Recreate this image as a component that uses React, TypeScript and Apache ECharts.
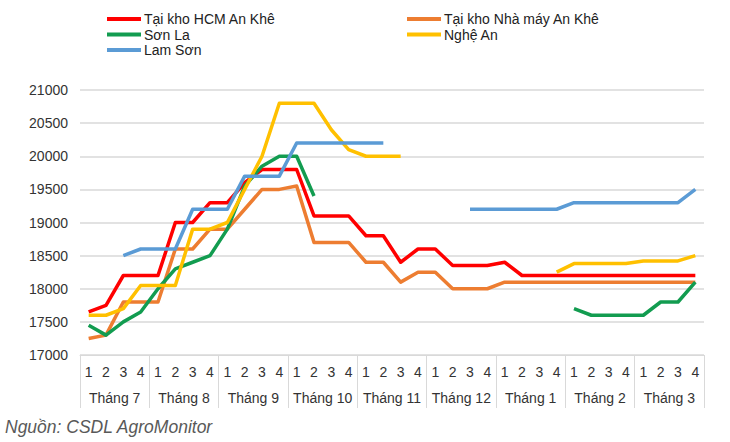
import * as echarts from 'echarts';
import React, { useEffect, useRef } from 'react';

const weeks = ['1', '2', '3', '4'];
const months = [
  'Tháng 7',
  'Tháng 8',
  'Tháng 9',
  'Tháng 10',
  'Tháng 11',
  'Tháng 12',
  'Tháng 1',
  'Tháng 2',
  'Tháng 3',
];
const weekCategories = months.flatMap((m) => weeks.map((w) => `${m}-${w}`));

const hcmAnKhe = [
  17650, 17750, 18200, 18200, 18200, 19000, 19000, 19300, 19300, 19600, 19800, 19800,
  19800, 19100, 19100, 19100, 18800, 18800, 18400, 18600, 18600, 18350, 18350, 18350,
  18400, 18200, 18200, 18200, 18200, 18200, 18200, 18200, 18200, 18200, 18200, 18200,
];
const nhaMayAnKhe = [
  17250, 17300, 17800, 17800, 17800, 18600, 18600, 18900, 18900, 19200, 19500, 19500,
  19550, 18700, 18700, 18700, 18400, 18400, 18100, 18250, 18250, 18000, 18000, 18000,
  18100, 18100, 18100, 18100, 18100, 18100, 18100, 18100, 18100, 18100, 18100, 18100,
];
const sonLa = [
  17450, 17300, 17500, 17650, 18000, 18300, 18400, 18500, 18900, 19550, 19850, 20000,
  20000, 19400, null, null, null, null, null, null, null, null, null, null,
  null, null, null, null, 17700, 17600, 17600, 17600, 17600, 17800, 17800, 18100,
];
const ngheAn = [
  17600, 17600, 17700, 18050, 18050, 18050, 18900, 18900, 19000, 19500, 20000, 20800,
  20800, 20800, 20400, 20100, 20000, 20000, 20000, null, null, null, null, null,
  null, null, null, 18250, 18380, 18380, 18380, 18380, 18420, 18420, 18420, 18500,
];
const lamSon = [
  null, null, 18500, 18600, 18600, 18600, 19200, 19200, 19200, 19700, 19700, 19700,
  20200, 20200, 20200, 20200, 20200, 20200, null, null, null, null, 19200, 19200,
  19200, 19200, 19200, 19200, 19300, 19300, 19300, 19300, 19300, 19300, 19300, 19500,
];

const seriesDefs = [
  { name: 'Tại kho HCM An Khê', data: hcmAnKhe, color: '#ff0000' },
  { name: 'Tại kho Nhà máy An Khê', data: nhaMayAnKhe, color: '#ed7d31' },
  { name: 'Sơn La', data: sonLa, color: '#129c50' },
  { name: 'Nghệ An', data: ngheAn, color: '#ffc000' },
  { name: 'Lam Sơn', data: lamSon, color: '#5b9bd5' },
];

const FONT = '"Liberation Sans", Arial, sans-serif';
const GRID_GREY = '#d9d9d9';

const App: React.FC = () => {
  const chartRef = useRef<HTMLDivElement>(null);

  useEffect(() => {
    document.body.style.margin = '0';
    if (!chartRef.current) return;
    const chart = echarts.init(chartRef.current, undefined, { renderer: 'svg' });

    const legendBase = {
      orient: 'vertical' as const,
      top: 7,
      icon: 'rect',
      itemWidth: 34,
      itemHeight: 4,
      itemGap: 1.5,
      textStyle: { fontSize: 14, color: '#222', fontFamily: FONT, padding: [0, 0, 0, -2] },
    };

    const option: echarts.EChartsOption = {
      animation: false,
      backgroundColor: '#ffffff',
      textStyle: { fontFamily: FONT },
      legend: [
        { ...legendBase, left: 102, data: [seriesDefs[0].name, seriesDefs[2].name, seriesDefs[4].name] },
        { ...legendBase, left: 402, data: [seriesDefs[1].name, seriesDefs[3].name] },
      ],
      grid: { left: 80, right: 26, top: 90, bottom: 87 },
      xAxis: [
        {
          type: 'category',
          position: 'bottom',
          data: weekCategories,
          boundaryGap: true,
          axisLine: { show: true, lineStyle: { color: GRID_GREY, width: 1 } },
          axisTick: { show: false },
          axisLabel: {
            interval: 0,
            margin: 10,
            fontSize: 14,
            color: '#333',
            formatter: (v: string) => v.split('-')[1],
          },
        },
        {
          type: 'category',
          position: 'bottom',
          data: months,
          boundaryGap: true,
          axisLine: { show: false },
          axisTick: { show: true, length: 53, lineStyle: { color: GRID_GREY, width: 1 } },
          axisLabel: { interval: 0, margin: 36, fontSize: 14, color: '#333' },
        },
      ],
      yAxis: {
        type: 'value',
        min: 17000,
        max: 21000,
        interval: 500,
        axisLine: { show: false },
        axisTick: { show: false },
        axisLabel: { margin: 12, fontSize: 14, color: '#333', formatter: (v: number) => String(v) },
        splitLine: { lineStyle: { color: GRID_GREY, width: 1.5 } },
      },
      series: seriesDefs.map((s) => ({
        type: 'line' as const,
        name: s.name,
        data: s.data,
        xAxisIndex: 0,
        showSymbol: false,
        symbol: 'none',
        connectNulls: false,
        color: s.color,
        lineStyle: { color: s.color, width: 3.5, join: 'round' as const },
      })),
      graphic: [
        {
          type: 'text',
          left: 5,
          top: 418,
          style: {
            text: 'Nguồn: CSDL AgroMonitor',
            fontSize: 17.5,
            fontStyle: 'italic',
            fontFamily: FONT,
            fill: '#595959',
          },
        },
      ],
    };

    chart.setOption(option);
    return () => {
      chart.dispose();
    };
  }, []);

  return <div ref={chartRef} style={{ width: 730, height: 442 }} />;
};

export default App;
